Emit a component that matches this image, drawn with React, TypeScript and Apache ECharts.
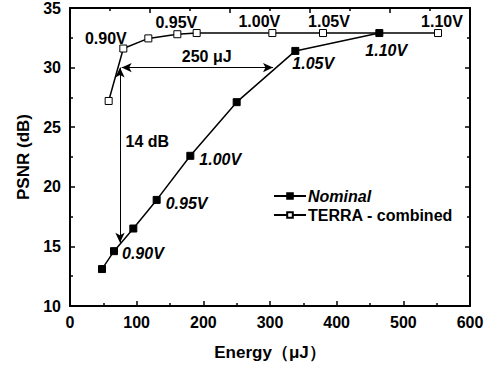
import React, { useEffect, useRef } from "react";
import * as echarts from "echarts";

const nominalEnergy = [48, 66, 95, 130, 180.5, 250, 338, 464];
const nominalPsnr = [13.1, 14.6, 16.5, 18.9, 22.6, 27.1, 31.4, 32.9];
const nominalLabels = ["", "0.90V", "", "0.95V", "1.00V", "", "1.05V", "1.10V"];

const terraEnergy = [58, 80, 117.5, 161, 190, 303.5, 379.5, 552];
const terraPsnr = [27.2, 31.6, 32.45, 32.8, 32.9, 32.9, 32.9, 32.9];
const terraLabels = ["", "0.90V", "", "0.95V", "", "1.00V", "1.05V", "1.10V"];

const xTicks = { min: 0, max: 600, interval: 100 };
const yTicks = { min: 10, max: 35, interval: 5 };

const FONT = "'Liberation Sans', Arial, sans-serif";

export default function App() {
  const ref = useRef<HTMLDivElement>(null);
  useEffect(() => {
    if (!ref.current) return;
    const chart = echarts.init(ref.current, undefined, { renderer: "svg" });

    const nomOffsets: Record<number, [number, number]> = {
      1: [-1, 2],
      3: [0, 4],
      4: [0, 4],
      6: [-12, 13],
      7: [-23, 17],
    };
    const terraOffsets: Record<number, [number, number]> = {
      1: [-17.5, 6.5],
      3: [-1, 5.5],
      5: [-13, 5],
      6: [6, 5],
      7: [4, 5],
    };

    const nomData = nominalEnergy.map((x, i) => {
      const lab = nominalLabels[i];
      return {
        value: [x, nominalPsnr[i]],
        label: lab
          ? {
              show: true,
              position: "right",
              distance: 5,
              offset: nomOffsets[i],
              formatter: lab,
              fontStyle: "italic",
              fontWeight: "bold",
              fontSize: 16,
              fontFamily: FONT,
              color: "#000",
            }
          : { show: false },
      };
    });
    const terraData = terraEnergy.map((x, i) => {
      const lab = terraLabels[i];
      return {
        value: [x, terraPsnr[i]],
        label: lab
          ? {
              show: true,
              position: "top",
              distance: 5,
              offset: terraOffsets[i],
              formatter: lab,
              fontWeight: "bold",
              fontSize: 16,
              fontFamily: FONT,
              color: "#000",
            }
          : { show: false },
      };
    });

    const axisCommon = {
      axisLine: { show: true, onZero: false, lineStyle: { color: "#000", width: 2 } },
      axisTick: { show: true, inside: true, length: 5, lineStyle: { color: "#000", width: 1.5 } },
      minorTick: { show: true, splitNumber: 2, length: 3, lineStyle: { color: "#000", width: 1.5 } },
      splitLine: { show: false },
      axisLabel: { fontSize: 16, fontWeight: "bold", fontFamily: FONT, color: "#000" },
    };

    chart.setOption({
      animation: false,
      backgroundColor: "#fff",
      grid: { left: 70, right: 27, top: 8, bottom: 62 },
      legend: {
        left: 268,
        top: 183,
        orient: "vertical",
        itemWidth: 32,
        itemHeight: 7,
        itemGap: 3,
        data: ["Nominal", "TERRA - combined"],
        formatter: (name: string) => (name === "Nominal" ? `{i|${name}}` : `{n|${name}}`),
        textStyle: {
          padding: [0, 0, 0, -3],
          rich: {
            i: { fontStyle: "italic", fontWeight: "bold", fontSize: 16, fontFamily: FONT, color: "#000", lineHeight: 16 },
            n: { fontWeight: "bold", fontSize: 16, fontFamily: FONT, color: "#000", lineHeight: 16 },
          },
        },
      },
      xAxis: [
        {
          ...axisCommon,
          type: "value",
          min: xTicks.min,
          max: xTicks.max,
          interval: xTicks.interval,
          position: "bottom",
          name: "Energy（μJ）",
          nameLocation: "middle",
          nameGap: 38,
          nameTextStyle: { fontSize: 17, fontWeight: "bold", fontFamily: FONT, color: "#000" },
          axisLabel: { ...axisCommon.axisLabel, margin: 8 },
        },
        {
          ...axisCommon,
          type: "value",
          min: 0,
          max: 600,
          interval: 120,
          position: "top",
          axisLabel: { show: false },
        },
      ],
      yAxis: [
        {
          ...axisCommon,
          type: "value",
          min: yTicks.min,
          max: yTicks.max,
          interval: yTicks.interval,
          position: "left",
          name: "PSNR (dB)",
          nameLocation: "middle",
          nameGap: 36,
          nameTextStyle: { fontSize: 17, fontWeight: "bold", fontFamily: FONT, color: "#000" },
          axisLabel: { ...axisCommon.axisLabel, margin: 9 },
        },
        {
          ...axisCommon,
          type: "value",
          min: yTicks.min,
          max: yTicks.max,
          interval: yTicks.interval,
          position: "right",
          axisLabel: { show: false },
        },
      ],
      series: [
        {
          name: "Nominal",
          type: "line",
          data: nomData,
          symbol: "rect",
          symbolSize: 7,
          itemStyle: { color: "#000", borderColor: "#000", borderWidth: 1 },
          lineStyle: { color: "#000", width: 1.5 },
          z: 3,
          markLine: {
            silent: true,
            symbol: ["arrow", "arrow"],
            symbolSize: [7, 10],
            lineStyle: { color: "#000", width: 1, type: "solid" },
            label: { show: false },
            data: [
              [{ coord: [77.5, 30] }, { coord: [304.5, 30] }],
              [{ coord: [75, 30] }, { coord: [75, 15.3] }],
            ],
          },
          markPoint: {
            silent: true,
            symbol: "circle",
            symbolSize: 1,
            itemStyle: { color: "rgba(0,0,0,0)" },
            label: {
              show: true,
              position: "inside",
              fontSize: 16,
              fontWeight: "bold",
              fontFamily: FONT,
              color: "#000",
              formatter: (p: any) => p.name,
            },
            data: [
              { name: "250 μJ", coord: [205, 30.9] },
              { name: "14 dB", coord: [116, 23.8] },
            ],
          },
        },
        {
          name: "TERRA - combined",
          type: "line",
          data: terraData,
          symbol: "rect",
          symbolSize: 7,
          itemStyle: { color: "#fff", borderColor: "#000", borderWidth: 1 },
          lineStyle: { color: "#000", width: 1.5 },
          z: 3,
        },
      ],
    });
    return () => chart.dispose();
  }, []);
  return (
    <div
      ref={ref}
      style={{ position: "fixed", left: 0, top: 0, width: 497, height: 368, background: "#fff" }}
    />
  );
}
